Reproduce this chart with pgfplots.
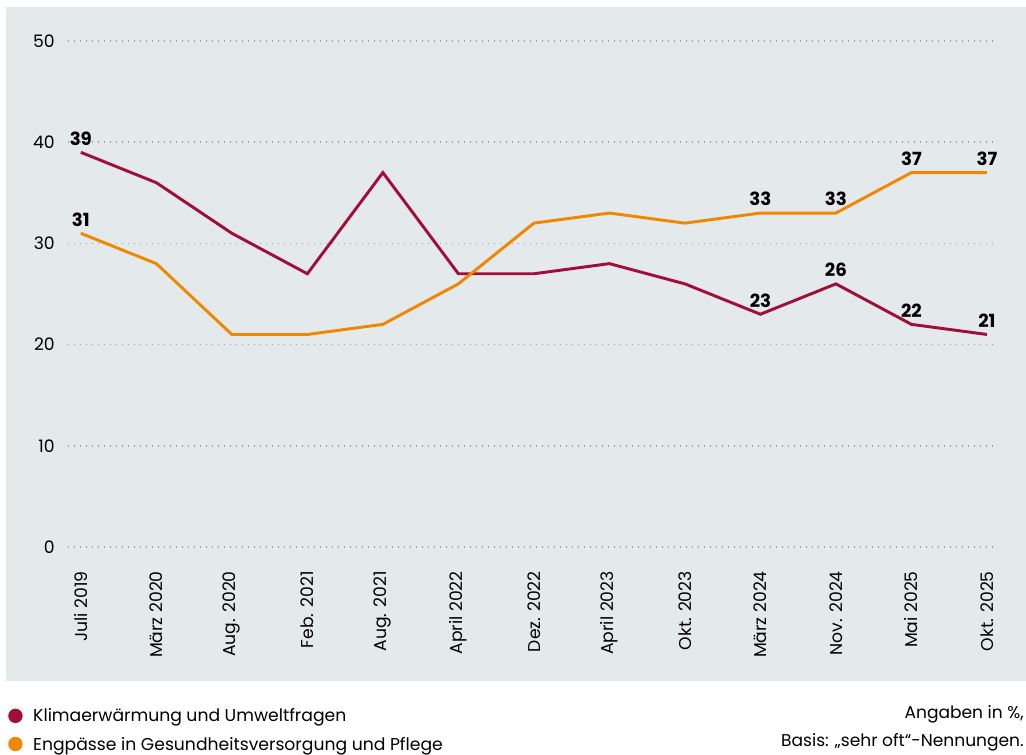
\documentclass[border=0pt]{standalone}
\usepackage{fontspec}
\setmainfont{Poppins}
\usepackage{pgfplots}
\pgfplotsset{compat=1.18}
\definecolor{kred}{RGB}{161,14,56}
\definecolor{korange}{RGB}{240,135,0}
\definecolor{bgpanel}{RGB}{228,233,236}
\definecolor{gridc}{RGB}{150,160,166}
\begin{document}
\fontsize{12.8}{15}\selectfont
\begin{tikzpicture}
\path (0pt,0pt) rectangle (769.5pt,566.25pt);
\fill[bgpanel] (4.5pt,55.5pt) rectangle (769.5pt,561pt);
\begin{axis}[
  at={(51pt,156pt)}, anchor=south west,
  scale only axis, width=696pt, height=379.5pt,
  xmin=-0.17, xmax=12.12, ymin=0, ymax=50,
  clip=false,
  axis line style={draw=none},
  major tick length=0pt,
  ytick={0,10,20,30,40,50},
  xtick={0,...,12},
  xticklabels={Juli 2019,März 2020,Aug. 2020,Feb. 2021,Aug. 2021,April 2022,Dez. 2022,April 2023,Okt. 2023,März 2024,Nov. 2024,Mai 2025,Okt. 2025},
  xticklabel style={rotate=90, anchor=east, inner sep=0pt, font=\fontsize{12.9}{15}\selectfont},
  yticklabel style={anchor=east, inner sep=0pt, font=\fontsize{12.9}{15}\selectfont},
  xticklabel shift=18pt,
  yticklabel shift=9.75pt,
  /pgf/number format/assume math mode=true,
  ymajorgrids,
  grid style={gridc, line width=1.1pt, dash pattern=on 1.1pt off 3.4pt},
  legend style={at={(axis description cs:-0.0647,-0.319)}, anchor=north west, draw=none, fill=none, inner sep=0pt, row sep=9.2pt, column sep=0pt, nodes={inner sep=0pt, anchor=west, font=\fontsize{12.9}{15}\selectfont}},
  legend cell align=left,
]
\addplot[kred, line width=2.2pt, legend image code/.code={\fill[kred, draw=none] (5.4pt,0.6pt) circle (5.4pt); \path[draw=none, fill=none] (0pt,0pt) rectangle (18.75pt,0.1pt);}] coordinates {(0,39) (1,36) (2,31) (3,27) (4,37) (5,27) (6,27) (7,28) (8,26) (9,23) (10,26) (11,22) (12,21)};
\addlegendentry{Klimaerwärmung und Umweltfragen}
\addplot[korange, line width=2.2pt, legend image code/.code={\fill[korange, draw=none] (5.4pt,0.6pt) circle (5.4pt); \path[draw=none, fill=none] (0pt,0pt) rectangle (18.75pt,0.1pt);}] coordinates {(0,31) (1,28) (2,21) (3,21) (4,22) (5,26) (6,32) (7,33) (8,32) (9,33) (10,33) (11,37) (12,37)};
\addlegendentry{Engpässe in Gesundheitsversorgung und Pflege}
\addplot[draw=none, forget plot, nodes near coords, point meta=y,
  every node near coord/.append style={font=\bfseries\fontsize{13.6}{15}\selectfont, inner sep=0pt, anchor=south, yshift=5pt, /pgf/number format/assume math mode=true}]
  coordinates {(0,39) (9,23) (10,26) (11,22) (12,21) (0,31) (9,33) (10,33) (11,37) (12,37)};
\end{axis}
\node[anchor=base east, inner sep=0pt] at (768pt,27pt) {Angaben in \%,};
\node[anchor=base east, inner sep=0pt] at (768pt,6pt) {Basis: „sehr oft“-Nennungen.};
\end{tikzpicture}
\end{document}
